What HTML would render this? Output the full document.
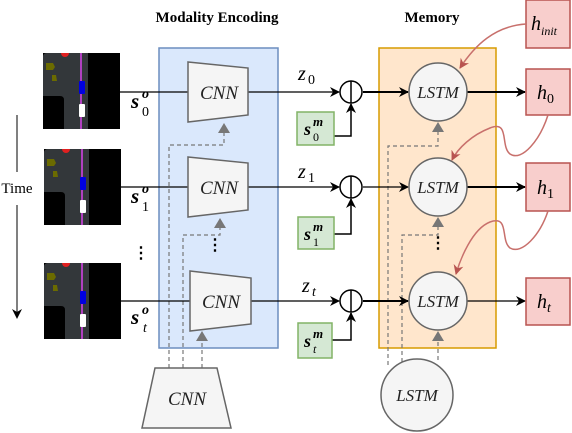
<!DOCTYPE html>
<html><head><style>body{margin:0;background:#fff}svg{display:block}</style></head>
<body>
<svg width="572" height="433" viewBox="0 0 572 433" xmlns="http://www.w3.org/2000/svg" font-family="Liberation Serif, serif">
<defs>
<marker id="ab" markerWidth="10" markerHeight="10" refX="9" refY="5" orient="auto" markerUnits="userSpaceOnUse"><path d="M0,0 L10,5 L0,10 L3,5Z" fill="#000"/></marker>
<marker id="ar" markerWidth="10" markerHeight="10" refX="9" refY="5" orient="auto" markerUnits="userSpaceOnUse"><path d="M0,0 L10,5 L0,10 L3,5Z" fill="#b85450"/></marker>
<g id="img">
<rect x="0" y="0" width="77" height="76" fill="#000"/>
<path d="M0,4 Q0,0 4,0 L45,0 L45,76 L21,76 L21,47 Q21,43 17,43 L0,43Z" fill="#33373a"/>
<line x1="38" y1="0" x2="38" y2="76" stroke="#b040c0" stroke-width="2"/>
<path d="M18,0 A4,4 0 0 0 26,0Z" fill="#e02020"/>
<path d="M3,10 L10,10 L12,14 L10,17 L3,17Z" fill="#6b6b00"/>
<path d="M9,22 L13,22 L14,28 L9,28Z" fill="#6b6b00"/>
<rect x="36" y="28" width="6" height="13" rx="1" fill="#0000e0"/>
<rect x="36" y="51" width="6" height="13" rx="1" fill="#fff"/>
</g>
</defs>

<text x="217" y="22" font-size="15" font-weight="bold" text-anchor="middle">Modality  Encoding</text>
<text x="432" y="22" font-size="15" font-weight="bold" text-anchor="middle">Memory</text>

<line x1="17" y1="115" x2="17" y2="172" stroke="#000"/>
<line x1="17" y1="205" x2="17" y2="318" stroke="#000" marker-end="url(#ab)"/>
<text x="17" y="193" font-size="15" text-anchor="middle">Time</text>

<rect x="159" y="48" width="119" height="300" fill="#dae8fc" stroke="#6c8ebf" stroke-width="1.5"/>
<rect x="379" y="48" width="117" height="300" fill="#ffe6cc" stroke="#d79b00" stroke-width="1.5"/>

<use href="#img" x="43" y="53"/>
<use href="#img" x="44" y="149"/>
<use href="#img" x="44" y="263"/>

<g stroke="#777" stroke-dasharray="4,3" fill="none" stroke-width="1.2">
<path d="M169,368 V145 H224 V133"/>
<path d="M183,368 V235 H220 V228"/>
<path d="M202,368 V340"/>
<path d="M388,365 V146 H438 V132"/>
<path d="M402,362 V235 H438 V226"/>
<path d="M438,360 V340"/>
</g>
<g fill="#777">
<path d="M218,133 L224,123 L230,133Z"/>
<path d="M214,228 L220,218 L226,228Z"/>
<path d="M196,341 L202,331 L208,341Z"/>
<path d="M432,132 L438,122 L444,132Z"/>
<path d="M432,227 L438,217 L444,227Z"/>
<path d="M432,341 L438,331 L444,341Z"/>
</g>

<g stroke="#000" stroke-width="1.2">
<line x1="120" y1="92" x2="188" y2="92"/>
<line x1="120" y1="187" x2="188" y2="187"/>
<line x1="120" y1="301" x2="190" y2="301"/>
<line x1="248" y1="92" x2="339" y2="92" marker-end="url(#ab)"/>
<line x1="248" y1="187" x2="339" y2="187" marker-end="url(#ab)"/>
<line x1="251" y1="301" x2="339" y2="301" marker-end="url(#ab)"/>
<line x1="363" y1="92" x2="408" y2="92" stroke-width="2" marker-end="url(#ab)"/>
<line x1="363" y1="187" x2="408" y2="187" marker-end="url(#ab)"/>
<line x1="363" y1="301" x2="408" y2="301" stroke-width="2" marker-end="url(#ab)"/>
<line x1="467" y1="92" x2="525" y2="92" stroke-width="2" marker-end="url(#ab)"/>
<line x1="467" y1="187" x2="525" y2="187" stroke-width="2" marker-end="url(#ab)"/>
<line x1="467" y1="301" x2="525" y2="301" marker-end="url(#ab)"/>
<path d="M334,136 H351 V104" fill="none" stroke-width="1.5" marker-end="url(#ab)"/>
<path d="M334,234 H351 V199" fill="none" stroke-width="1.5" marker-end="url(#ab)"/>
<path d="M332,340 H351 V313" fill="none" stroke-width="1.5" marker-end="url(#ab)"/>
</g>

<g fill="#f5f5f5" stroke="#666" stroke-width="1.5">
<path d="M188,62 L248,68 L248,115 L188,122Z"/>
<path d="M188,157 L248,163 L248,210 L188,217Z"/>
<path d="M190,271 L251,278 L251,324 L190,331Z"/>
<path d="M155,368 L217,368 L231,428 L142,428Z"/>
<circle cx="438" cy="92" r="29"/>
<circle cx="438" cy="187" r="29"/>
<circle cx="438" cy="301" r="29"/>
<circle cx="417" cy="395" r="36"/>
</g>
<g font-style="italic" font-size="19" text-anchor="middle" fill="#222">
<text x="219" y="99">CNN</text>
<text x="219" y="194">CNN</text>
<text x="221" y="308">CNN</text>
<text x="187" y="405">CNN</text>
<text x="438" y="98" font-size="17">LSTM</text>
<text x="438" y="193" font-size="17">LSTM</text>
<text x="438" y="307" font-size="17">LSTM</text>
<text x="417" y="401" font-size="17">LSTM</text>
</g>

<g fill="#fff" stroke="#000" stroke-width="1.5">
<circle cx="351" cy="92" r="11"/><line x1="351" y1="81" x2="351" y2="103"/>
<circle cx="351" cy="187" r="11"/><line x1="351" y1="176" x2="351" y2="198"/>
<circle cx="351" cy="301" r="11"/><line x1="351" y1="290" x2="351" y2="312"/>
</g>

<g fill="#d5e8d4" stroke="#82b366" stroke-width="1.5">
<rect x="297" y="112" width="37" height="33"/>
<rect x="298" y="217" width="36" height="32"/>
<rect x="298" y="323" width="34" height="35"/>
</g>
<g fill="#f8cecc" stroke="#b85450" stroke-width="1.5">
<rect x="526" y="0" width="44" height="48"/>
<rect x="526" y="69" width="44" height="46"/>
<rect x="526" y="163" width="44" height="48"/>
<rect x="526" y="278" width="44" height="47"/>
</g>
<g fill="none" stroke="#c8706c" stroke-width="1.5">
<path d="M526,24 C495,26 475,45 460,68" marker-end="url(#ar)"/>
<path d="M548,115 C540,140 522,162 510,154 C500,146 510,120 490,128 C472,135 458,148 452,160" marker-end="url(#ar)"/>
<path d="M548,211 C540,235 522,255 510,248 C500,240 510,215 490,222 C472,229 460,260 456,274" marker-end="url(#ar)"/>
</g>

<g font-style="italic" font-size="21" font-weight="bold" fill="#000">
<text x="131" y="108">s</text><text x="131" y="203">s</text><text x="131" y="324">s</text>
<text x="304" y="135" font-size="18">s</text><text x="304" y="240" font-size="18">s</text><text x="304" y="347" font-size="18">s</text>
</g>
<g font-size="14" fill="#000">
<text x="142" y="98" font-style="italic" font-weight="bold">o</text><text x="142" y="116">0</text>
<text x="142" y="193" font-style="italic" font-weight="bold">o</text><text x="142" y="211">1</text>
<text x="142" y="314" font-style="italic" font-weight="bold">o</text><text x="143" y="332" font-style="italic">t</text>
<text x="313" y="126" font-style="italic" font-weight="bold" font-size="13">m</text><text x="313" y="141" font-size="12">0</text>
<text x="313" y="231" font-style="italic" font-weight="bold" font-size="13">m</text><text x="313" y="246" font-size="12">1</text>
<text x="313" y="338" font-style="italic" font-weight="bold" font-size="13">m</text><text x="313" y="353" font-size="12" font-style="italic">t</text>
</g>
<g font-style="italic" font-size="20" fill="#000">
<text x="298" y="80">z</text><text x="308" y="84" font-size="14" font-style="normal">0</text>
<text x="298" y="178">z</text><text x="308" y="182" font-size="14" font-style="normal">1</text>
<text x="302" y="292">z</text><text x="312" y="296" font-size="14">t</text>
<text x="531" y="30">h</text><text x="541" y="35" font-size="12">init</text>
<text x="537" y="99">h</text><text x="547" y="103" font-size="14" font-style="normal">0</text>
<text x="537" y="194">h</text><text x="547" y="198" font-size="14" font-style="normal">1</text>
<text x="537" y="308">h</text><text x="547" y="312" font-size="14">t</text>
</g>
<g font-size="16" font-weight="bold" text-anchor="middle">
<text x="141" y="258">⋮</text><text x="215" y="250">⋮</text><text x="438" y="248">⋮</text>
</g>
</svg>
</body></html>
